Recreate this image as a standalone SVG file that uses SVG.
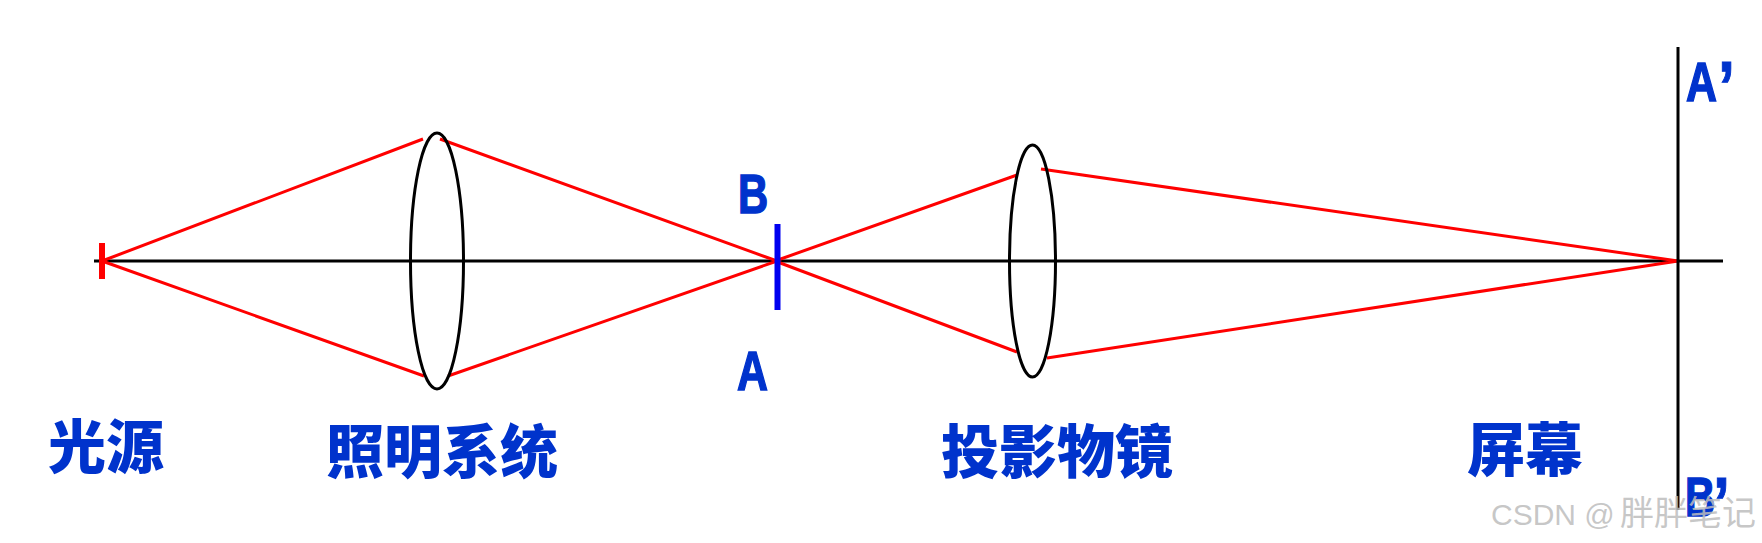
<svg xmlns="http://www.w3.org/2000/svg" width="1762" height="543" viewBox="0 0 1762 543">
<style>
.b{fill:none;stroke:#000;stroke-width:3}
.r{fill:none;stroke:#f00;stroke-width:3}
.cn{font-family:"Noto Sans CJK SC","Noto Sans",sans-serif;font-weight:900;font-size:58px;fill:#0033cc}
.la{font-family:"Liberation Sans",Arial,sans-serif;font-weight:700;font-size:55px;fill:#0033cc;stroke:#0033cc;stroke-width:1.5}
.ap{font-size:72px;stroke-width:1}
.wm{font-family:"Liberation Sans",Arial,"Noto Sans CJK SC",sans-serif;font-size:30px;fill:#bdbdbd;fill-opacity:.85}
.wc{font-family:"Noto Sans CJK SC",sans-serif;font-size:34px;fill:#bdbdbd;fill-opacity:.85}
</style>
<rect width="1762" height="543" fill="#fff"/>
<g id="connectors">
<line class="b" x1="94" y1="261" x2="1723" y2="261"/>
<path class="r" d="M102 261L423 139M102 261L424 376M440 139L777 261M448 376L777 261M775 261L1017 175M775 261L1017 352M1041 169L1678 261M1047 358L1678 261"/>
</g>
<g id="source"><line x1="102" y1="243" x2="102" y2="279" stroke="#f00" stroke-width="6"/><text class="cn" x="48" y="468">光源</text></g>
<g id="illumination"><ellipse class="b" cx="437" cy="261" rx="26.5" ry="128"/><text class="cn" x="326" y="473">照明系统</text></g>
<g id="object"><line x1="777.5" y1="224" x2="777.5" y2="310" stroke="#0000f0" stroke-width="6"/>
<text class="la" transform="translate(738 213) scale(.76 1)">B</text><text class="la" transform="translate(737 390) scale(.78 1)">A</text></g>
<g id="projection"><ellipse class="b" cx="1032.5" cy="261" rx="23" ry="116"/><text class="cn" x="941" y="473">投影物镜</text></g>
<g id="screen"><line x1="1678" y1="47" x2="1678" y2="510" stroke="#000" stroke-width="3"/>
<text class="cn" x="1467" y="471">屏幕</text>
<text class="la" transform="translate(1686 101) scale(.78 1)">A</text><text class="la ap" transform="translate(1718 112) scale(.85 1)">’</text>
<text class="la" transform="translate(1685 516) scale(.76 1)">B</text><text class="la ap" transform="translate(1713 528) scale(.85 1)">’</text></g>
<g id="watermark"><text class="wm" x="1491" y="525">CSDN @</text><text class="wc" x="1620" y="525">胖胖笔记</text></g>
</svg>
